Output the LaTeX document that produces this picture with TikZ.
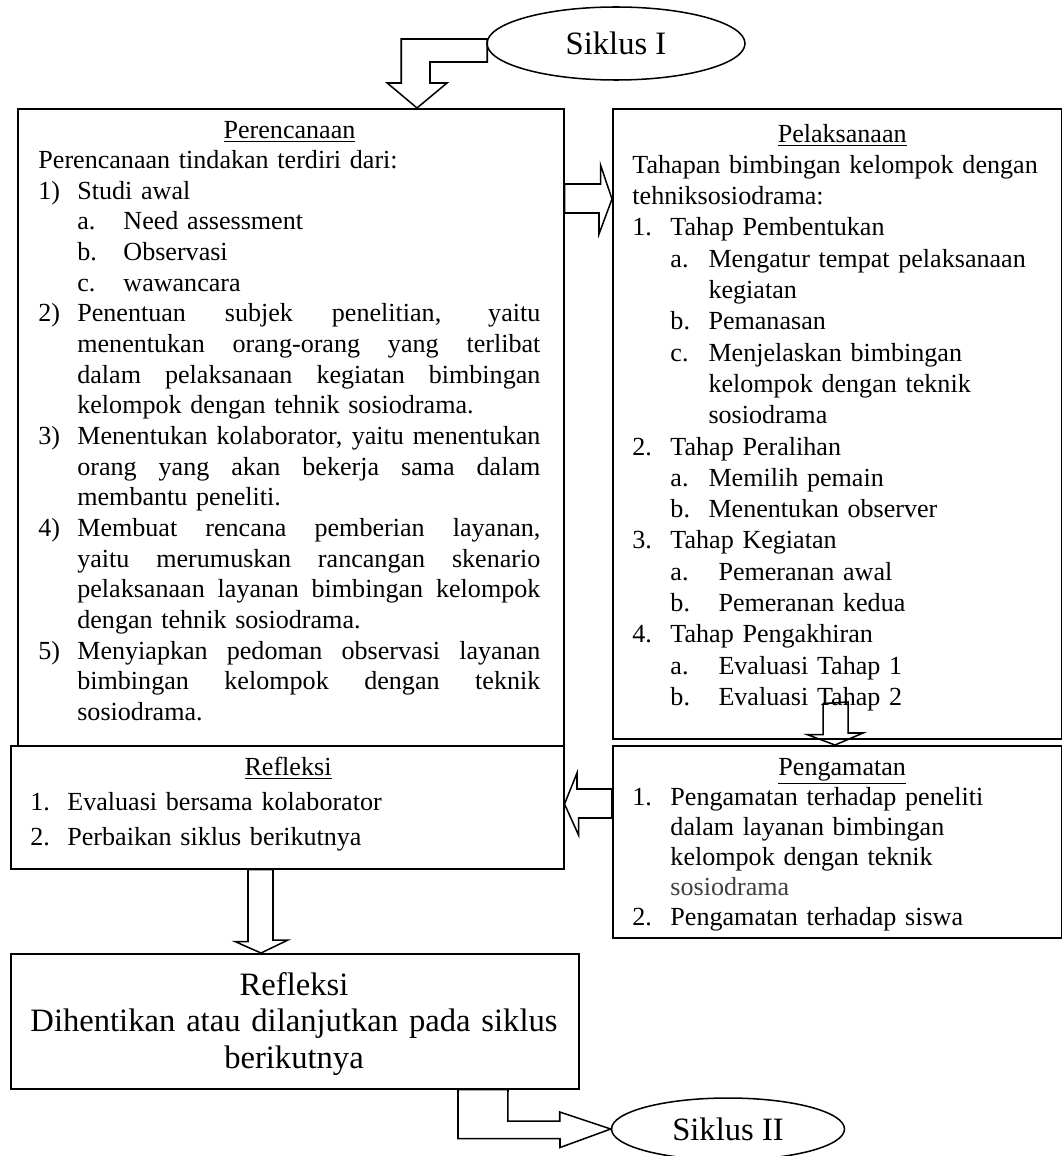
\documentclass[tikz,border=0pt]{standalone}
\usepackage{fontspec}
\setmainfont{Liberation Serif}
\usetikzlibrary{positioning,calc,shapes.geometric}

\newcommand{\pxu}{0.46pt}
% label column + text
\newcommand{\lst}[3]{\makebox[#1][l]{#2}#3}
% justified line
\newcommand{\jline}[1]{\hbox to 213pt{\spaceskip=0.25em plus 1fil minus 0.1em\relax #1}}

\tikzset{
  box/.style={draw, line width=0.7pt, inner sep=0pt, anchor=north west},
  txt/.style={inner sep=0pt, anchor=base west, align=left},
  blk/.style={draw, line width=0.7pt, line join=miter},
  cyc/.style={draw, ellipse, line width=0.7pt, fill=white, inner sep=0pt,
    font=\fontsize{15}{17}\selectfont}
}

\begin{document}
\begin{tikzpicture}[x=0.46pt, y=-0.46pt, font=\fontsize{12}{13.8}\selectfont]
\useasboundingbox (0,0) rectangle (1062,1156);

% boxes
\node[box, minimum width=546*\pxu, minimum height=637*\pxu] (plan) at (17,108) {};
\node[box, minimum width=449*\pxu, minimum height=630*\pxu] (pel) at (612,108) {};
\node[box, minimum width=449*\pxu, minimum height=192*\pxu] (peng) at (612,745) {};
\node[box, minimum width=553*\pxu, minimum height=123*\pxu] (refl) at (10,745) {};
\node[box, minimum width=568*\pxu, minimum height=135*\pxu] (hasil) at (10,953) {};
\node[cyc, minimum width=258*\pxu, minimum height=73*\pxu] (s1) at (616,43.5) {Siklus I};
\node[cyc, minimum width=233*\pxu, minimum height=62*\pxu] (s2) at (728,1129) {Siklus II};

% texts
\node[txt, text width=231pt, font=\fontsize{12}{14.1}\selectfont] (plantxt) at (38,138) {%
\makebox[\linewidth]{\underline{Perencanaan}}\\
Perencanaan tindakan terdiri dari:\\
\lst{17.9pt}{1)}{Studi awal}\\
\hspace*{17.9pt}\lst{21.2pt}{a.}{Need assessment}\\
\hspace*{17.9pt}\lst{21.2pt}{b.}{Observasi}\\
\hspace*{17.9pt}\lst{21.2pt}{c.}{wawancara}\\
\lst{17.9pt}{2)}{\jline{Penentuan subjek penelitian, yaitu}}\\
\hspace*{17.9pt}\jline{menentukan orang-orang yang terlibat}\\
\hspace*{17.9pt}\jline{dalam pelaksanaan kegiatan bimbingan}\\
\hspace*{17.9pt}kelompok dengan tehnik sosiodrama.\\
\lst{17.9pt}{3)}{\jline{Menentukan kolaborator, yaitu menentukan}}\\
\hspace*{17.9pt}\jline{orang yang akan bekerja sama dalam}\\
\hspace*{17.9pt}membantu peneliti.\\
\lst{17.9pt}{4)}{\jline{Membuat rencana pemberian layanan,}}\\
\hspace*{17.9pt}\jline{yaitu merumuskan rancangan skenario}\\
\hspace*{17.9pt}\jline{pelaksanaan layanan bimbingan kelompok}\\
\hspace*{17.9pt}dengan tehnik sosiodrama.\\
\lst{17.9pt}{5)}{\jline{Menyiapkan pedoman observasi layanan}}\\
\hspace*{17.9pt}\jline{bimbingan kelompok dengan teknik}\\
\hspace*{17.9pt}sosiodrama.};

\node[txt, text width=193pt, font=\fontsize{12}{14.4}\selectfont] (peltxt) at (632,142) {%
\makebox[\linewidth]{\underline{Pelaksanaan}}\\
Tahapan bimbingan kelompok dengan\\
tehniksosiodrama:\\
\lst{17.5pt}{1.}{Tahap Pembentukan}\\
\hspace*{17.5pt}\lst{17.5pt}{a.}{Mengatur tempat pelaksanaan}\\
\hspace*{35pt}kegiatan\\
\hspace*{17.5pt}\lst{17.5pt}{b.}{Pemanasan}\\
\hspace*{17.5pt}\lst{17.5pt}{c.}{Menjelaskan bimbingan}\\
\hspace*{35pt}kelompok dengan teknik\\
\hspace*{35pt}sosiodrama\\
\lst{17.5pt}{2.}{Tahap Peralihan}\\
\hspace*{17.5pt}\lst{17.5pt}{a.}{Memilih pemain}\\
\hspace*{17.5pt}\lst{17.5pt}{b.}{Menentukan observer}\\
\lst{17.5pt}{3.}{Tahap Kegiatan}\\
\hspace*{17.5pt}\lst{22.1pt}{a.}{Pemeranan awal}\\
\hspace*{17.5pt}\lst{22.1pt}{b.}{Pemeranan kedua}\\
\lst{17.5pt}{4.}{Tahap Pengakhiran}\\
\hspace*{17.5pt}\lst{22.1pt}{a.}{Evaluasi Tahap 1}\\
\hspace*{17.5pt}\lst{22.1pt}{b.}{Evaluasi Tahap 2}};

\node[txt, text width=193pt] (pengtxt) at (632,775) {%
\makebox[\linewidth]{\underline{Pengamatan}}\\
\lst{17.5pt}{1.}{Pengamatan terhadap peneliti}\\
\hspace*{17.5pt}dalam layanan bimbingan\\
\hspace*{17.5pt}kelompok dengan teknik\\
\hspace*{17.5pt}{\color{black!75}sosiodrama}\\
\lst{17.5pt}{2.}{Pengamatan terhadap siswa}};

\node[txt, text width=237pt, font=\fontsize{12}{16.1}\selectfont] (refltxt) at (30,775) {%
\makebox[\linewidth]{\underline{Refleksi}}\\
\lst{17pt}{1.}{Evaluasi bersama kolaborator}\\
\lst{17pt}{2.}{Perbaikan siklus berikutnya}};

\node[inner sep=0pt, anchor=base, align=center, text width=257pt,
  font=\fontsize{15}{17}\selectfont] (hasiltxt) at (294,995) {%
Refleksi\\
Dihentikan atau dilanjutkan pada siklus\\
berikutnya};

% block arrows
\draw[blk] ($(s1.west)+(1,-4.5)$) -- ++(-86,0) -- ++(0,44) -- ++(-14,0)
  -- (plan.north -| 417,0) -- ++(30,-25) -- ++(-17,0) -- ++(0,-21)
  -- ($(s1.west)+(1,18.5)$) -- cycle;
\draw[blk] (plan.east |- 0,184) -- ++(36,0) -- ++(0,-19) -- (pel.west |- 0,199)
  -- ++(-13,35) -- ++(0,-21) -- (plan.east |- 0,213) -- cycle;
\draw[blk] (pel.south -| 823,0) ++(0,-36) -- ++(0,31) -- ++(-16,0)
  -- (peng.north -| 835,0) -- ++(28,-12) -- ++(-15,0) -- ++(0,-31) -- cycle;
\draw[blk] (peng.west |- 0,789) -- ++(-35,0) -- ++(0,-16) -- (refl.east |- 0,804)
  -- ++(14,31) -- ++(0,-17) -- (peng.west |- 0,818) -- cycle;
\draw[blk] (refl.south -| 248,0) -- ++(0,72) -- ++(-13,0) -- (hasil.north -| 261,0)
  -- ++(27,-13) -- ++(-15,0) -- (refl.south -| 273,0) -- cycle;
\draw[blk] (hasil.south -| 458,0) -- ++(0,49) -- ++(102,0) -- ++(0,9) -- (s2.west)
  -- ++(-51,-17) -- ++(0,9) -- ++(-52,0) -- (hasil.south -| 508,0) -- cycle;
\end{tikzpicture}
\end{document}
